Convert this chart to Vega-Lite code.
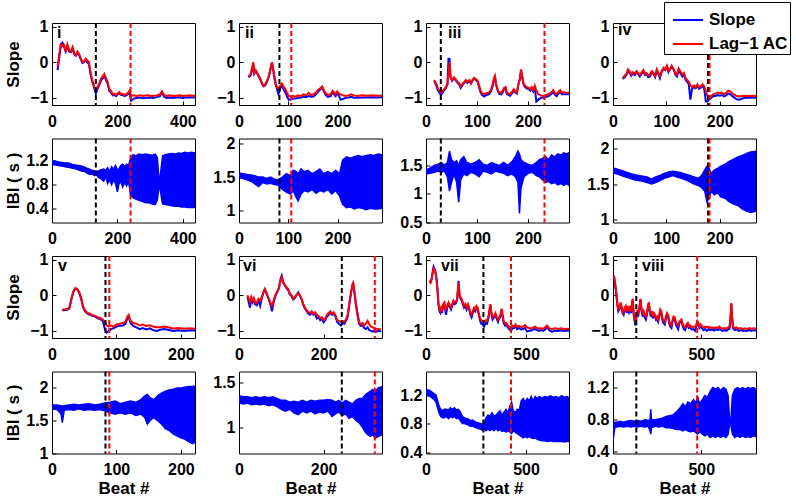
{
"$schema": "https://vega.github.io/schema/vega-lite/v6.json",
"padding": {"left": 3, "top": 1, "right": 4, "bottom": 2},
"bounds": "flush",
"spacing": {"row": 33.5, "column": 44},
"columns": 4,
"resolve": {"scale": {"x": "independent", "y": "independent"}, "legend": {"color": "independent"}},
"datasets": {
"dl": [
{"p":"i","x":134,"k":"b"},{"p":"i","x":240,"k":"r"},
{"p":"ii","x":82,"k":"b"},{"p":"ii","x":106,"k":"r"},
{"p":"iii","x":29,"k":"b"},{"p":"iii","x":232,"k":"r"},
{"p":"iv","x":178,"k":"b"},{"p":"iv","x":181,"k":"r"},
{"p":"v","x":83,"k":"b"},{"p":"v","x":89,"k":"r"},
{"p":"vi","x":243,"k":"b"},{"p":"vi","x":321,"k":"r"},
{"p":"vii","x":287,"k":"b"},{"p":"vii","x":425,"k":"r"},
{"p":"viii","x":132,"k":"b"},{"p":"viii","x":477,"k":"r"}
],
"sl": [
{"p":"i","x":17,"a":-0.12,"s":-0.22},{"p":"i","x":22,"a":0.2,"s":0.1},{"p":"i","x":27,"a":0.5,"s":0.5},{"p":"i","x":32,"a":0.45,"s":0.55},{"p":"i","x":37,"a":0.48,"s":0.42},{"p":"i","x":42,"a":0.3,"s":0.3},{"p":"i","x":47,"a":0.5,"s":0.45},{"p":"i","x":52,"a":0.35,"s":0.3},{"p":"i","x":58,"a":0.3,"s":0.28},{"p":"i","x":63,"a":0.42,"s":0.4},{"p":"i","x":68,"a":0.25,"s":0.22},{"p":"i","x":73,"a":0.2,"s":0.18},{"p":"i","x":78,"a":0.3,"s":0.25},{"p":"i","x":83,"a":0.22,"s":0.2},{"p":"i","x":88,"a":0.1,"s":0.08},{"p":"i","x":93,"a":0.0,"s":-0.02},{"p":"i","x":98,"a":0.02,"s":0.0},{"p":"i","x":103,"a":0.1,"s":0.05},{"p":"i","x":108,"a":0.05,"s":0.0},{"p":"i","x":113,"a":0.0,"s":-0.05},{"p":"i","x":118,"a":-0.3,"s":-0.35},{"p":"i","x":123,"a":-0.5,"s":-0.55},{"p":"i","x":127,"a":-0.6,"s":-0.65},{"p":"i","x":131,"a":-0.75,"s":-0.8},{"p":"i","x":134,"a":-0.8,"s":-0.88},{"p":"i","x":139,"a":-0.7,"s":-0.75},{"p":"i","x":144,"a":-0.6,"s":-0.65},{"p":"i","x":150,"a":-0.45,"s":-0.5},{"p":"i","x":155,"a":-0.4,"s":-0.45},{"p":"i","x":160,"a":-0.33,"s":-0.38},{"p":"i","x":165,"a":-0.45,"s":-0.5},{"p":"i","x":170,"a":-0.55,"s":-0.6},{"p":"i","x":175,"a":-0.75,"s":-0.8},{"p":"i","x":180,"a":-0.8,"s":-0.85},{"p":"i","x":186,"a":-0.9,"s":-0.93},{"p":"i","x":191,"a":-0.88,"s":-0.92},{"p":"i","x":196,"a":-0.92,"s":-0.95},{"p":"i","x":201,"a":-0.87,"s":-0.9},{"p":"i","x":206,"a":-0.84,"s":-0.88},{"p":"i","x":211,"a":-0.9,"s":-0.92},{"p":"i","x":216,"a":-0.88,"s":-0.91},{"p":"i","x":221,"a":-0.92,"s":-0.95},{"p":"i","x":227,"a":-0.9,"s":-0.93},{"p":"i","x":232,"a":-0.86,"s":-0.9},{"p":"i","x":237,"a":-0.8,"s":-0.86},{"p":"i","x":242,"a":-0.95,"s":-1.08},{"p":"i","x":250,"a":-0.93,"s":-1.02},{"p":"i","x":260,"a":-0.95,"s":-1.0},{"p":"i","x":270,"a":-0.93,"s":-1.0},{"p":"i","x":280,"a":-0.95,"s":-1.01},{"p":"i","x":290,"a":-0.93,"s":-1.0},{"p":"i","x":300,"a":-0.94,"s":-0.99},{"p":"i","x":310,"a":-0.95,"s":-1.0},{"p":"i","x":320,"a":-0.93,"s":-0.98},{"p":"i","x":330,"a":-0.9,"s":-0.95},{"p":"i","x":336,"a":-0.82,"s":-0.85},{"p":"i","x":342,"a":-0.92,"s":-0.96},{"p":"i","x":350,"a":-0.95,"s":-1.0},{"p":"i","x":360,"a":-0.93,"s":-0.99},{"p":"i","x":370,"a":-0.95,"s":-1.0},{"p":"i","x":380,"a":-0.94,"s":-0.99},{"p":"i","x":390,"a":-0.93,"s":-0.98},{"p":"i","x":400,"a":-0.95,"s":-1.0},{"p":"i","x":410,"a":-0.94,"s":-0.99},{"p":"i","x":420,"a":-0.93,"s":-0.98},{"p":"i","x":430,"a":-0.94,"s":-0.99},{"p":"i","x":437,"a":-0.93,"s":-0.98},
{"p":"ii","x":19,"a":-0.4,"s":-0.42},{"p":"ii","x":23,"a":-0.35,"s":-0.38},{"p":"ii","x":26,"a":-0.2,"s":-0.25},{"p":"ii","x":29,"a":0.0,"s":-0.05},{"p":"ii","x":31,"a":-0.3,"s":-0.32},{"p":"ii","x":34,"a":-0.22,"s":-0.25},{"p":"ii","x":37,"a":-0.3,"s":-0.32},{"p":"ii","x":40,"a":-0.38,"s":-0.4},{"p":"ii","x":43,"a":-0.45,"s":-0.48},{"p":"ii","x":47,"a":-0.6,"s":-0.62},{"p":"ii","x":50,"a":-0.66,"s":-0.68},{"p":"ii","x":53,"a":-0.63,"s":-0.65},{"p":"ii","x":56,"a":-0.55,"s":-0.57},{"p":"ii","x":59,"a":-0.45,"s":-0.47},{"p":"ii","x":62,"a":-0.3,"s":-0.32},{"p":"ii","x":65,"a":-0.1,"s":-0.12},{"p":"ii","x":67,"a":0.0,"s":-0.02},{"p":"ii","x":69,"a":-0.15,"s":-0.18},{"p":"ii","x":71,"a":-0.35,"s":-0.38},{"p":"ii","x":74,"a":-0.55,"s":-0.6},{"p":"ii","x":77,"a":-0.7,"s":-0.75},{"p":"ii","x":80,"a":-0.75,"s":-0.9},{"p":"ii","x":84,"a":-0.65,"s":-0.72},{"p":"ii","x":87,"a":-0.6,"s":-0.65},{"p":"ii","x":91,"a":-0.7,"s":-0.78},{"p":"ii","x":94,"a":-0.75,"s":-0.85},{"p":"ii","x":98,"a":-0.88,"s":-0.98},{"p":"ii","x":101,"a":-0.95,"s":-1.05},{"p":"ii","x":104,"a":-0.97,"s":-1.05},{"p":"ii","x":110,"a":-0.95,"s":-1.02},{"p":"ii","x":115,"a":-0.97,"s":-1.02},{"p":"ii","x":120,"a":-0.93,"s":-1.0},{"p":"ii","x":125,"a":-0.95,"s":-1.0},{"p":"ii","x":131,"a":-0.9,"s":-0.96},{"p":"ii","x":136,"a":-0.93,"s":-0.98},{"p":"ii","x":141,"a":-0.86,"s":-0.95},{"p":"ii","x":146,"a":-0.92,"s":-0.97},{"p":"ii","x":151,"a":-0.9,"s":-0.96},{"p":"ii","x":156,"a":-0.85,"s":-0.9},{"p":"ii","x":162,"a":-0.75,"s":-0.8},{"p":"ii","x":166,"a":-0.72,"s":-0.75},{"p":"ii","x":169,"a":-0.68,"s":-0.72},{"p":"ii","x":172,"a":-0.78,"s":-0.82},{"p":"ii","x":175,"a":-0.86,"s":-0.9},{"p":"ii","x":180,"a":-0.92,"s":-0.97},{"p":"ii","x":186,"a":-0.9,"s":-0.95},{"p":"ii","x":190,"a":-0.8,"s":-0.84},{"p":"ii","x":193,"a":-0.85,"s":-0.9},{"p":"ii","x":196,"a":-0.9,"s":-0.95},{"p":"ii","x":199,"a":-0.82,"s":-0.86},{"p":"ii","x":203,"a":-0.88,"s":-0.95},{"p":"ii","x":206,"a":-0.9,"s":-1.05},{"p":"ii","x":211,"a":-0.93,"s":-1.03},{"p":"ii","x":216,"a":-0.95,"s":-1.0},{"p":"ii","x":222,"a":-0.93,"s":-0.99},{"p":"ii","x":228,"a":-0.9,"s":-0.97},{"p":"ii","x":233,"a":-0.93,"s":-1.0},{"p":"ii","x":240,"a":-0.95,"s":-1.0},{"p":"ii","x":250,"a":-0.93,"s":-0.99},{"p":"ii","x":260,"a":-0.94,"s":-0.99},{"p":"ii","x":270,"a":-0.93,"s":-0.98},{"p":"ii","x":280,"a":-0.94,"s":-0.99},{"p":"ii","x":290,"a":-0.93,"s":-0.98},
{"p":"iii","x":16,"a":-0.5,"s":-0.52},{"p":"iii","x":20,"a":-0.6,"s":-0.65},{"p":"iii","x":23,"a":-0.72,"s":-0.78},{"p":"iii","x":26,"a":-0.8,"s":-0.85},{"p":"iii","x":29,"a":-0.85,"s":-0.92},{"p":"iii","x":33,"a":-0.8,"s":-0.85},{"p":"iii","x":36,"a":-0.75,"s":-0.78},{"p":"iii","x":39,"a":-0.7,"s":-0.72},{"p":"iii","x":42,"a":-0.6,"s":-0.63},{"p":"iii","x":44,"a":-0.3,"s":0.1},{"p":"iii","x":46,"a":0.0,"s":0.1},{"p":"iii","x":48,"a":-0.4,"s":-0.42},{"p":"iii","x":51,"a":-0.5,"s":-0.52},{"p":"iii","x":55,"a":-0.42,"s":-0.45},{"p":"iii","x":58,"a":-0.48,"s":-0.5},{"p":"iii","x":62,"a":-0.55,"s":-0.58},{"p":"iii","x":65,"a":-0.6,"s":-0.63},{"p":"iii","x":68,"a":-0.68,"s":-0.72},{"p":"iii","x":72,"a":-0.6,"s":-0.63},{"p":"iii","x":75,"a":-0.55,"s":-0.58},{"p":"iii","x":78,"a":-0.5,"s":-0.52},{"p":"iii","x":81,"a":-0.55,"s":-0.58},{"p":"iii","x":85,"a":-0.5,"s":-0.52},{"p":"iii","x":88,"a":-0.58,"s":-0.6},{"p":"iii","x":91,"a":-0.5,"s":-0.52},{"p":"iii","x":94,"a":-0.44,"s":-0.46},{"p":"iii","x":98,"a":-0.48,"s":-0.5},{"p":"iii","x":101,"a":-0.52,"s":-0.55},{"p":"iii","x":104,"a":-0.65,"s":-0.7},{"p":"iii","x":107,"a":-0.8,"s":-0.85},{"p":"iii","x":110,"a":-0.88,"s":-0.92},{"p":"iii","x":114,"a":-0.9,"s":-0.96},{"p":"iii","x":118,"a":-0.87,"s":-0.92},{"p":"iii","x":123,"a":-0.85,"s":-0.9},{"p":"iii","x":127,"a":-0.78,"s":-0.82},{"p":"iii","x":130,"a":-0.65,"s":-0.7},{"p":"iii","x":133,"a":-0.45,"s":-0.5},{"p":"iii","x":135,"a":-0.38,"s":-0.4},{"p":"iii","x":137,"a":-0.6,"s":-0.62},{"p":"iii","x":140,"a":-0.75,"s":-0.78},{"p":"iii","x":143,"a":-0.85,"s":-0.88},{"p":"iii","x":147,"a":-0.86,"s":-0.9},{"p":"iii","x":150,"a":-0.8,"s":-0.85},{"p":"iii","x":153,"a":-0.72,"s":-0.75},{"p":"iii","x":156,"a":-0.7,"s":-0.72},{"p":"iii","x":158,"a":-0.85,"s":-0.88},{"p":"iii","x":162,"a":-0.88,"s":-0.92},{"p":"iii","x":165,"a":-0.9,"s":-0.94},{"p":"iii","x":169,"a":-0.82,"s":-0.86},{"p":"iii","x":172,"a":-0.76,"s":-0.8},{"p":"iii","x":175,"a":-0.82,"s":-0.85},{"p":"iii","x":178,"a":-0.85,"s":-0.88},{"p":"iii","x":181,"a":-0.6,"s":-0.62},{"p":"iii","x":184,"a":-0.45,"s":-0.48},{"p":"iii","x":186,"a":-0.2,"s":-0.22},{"p":"iii","x":188,"a":-0.35,"s":-0.4},{"p":"iii","x":191,"a":-0.6,"s":-0.62},{"p":"iii","x":194,"a":-0.66,"s":-0.7},{"p":"iii","x":198,"a":-0.7,"s":-0.74},{"p":"iii","x":201,"a":-0.72,"s":-0.75},{"p":"iii","x":204,"a":-0.76,"s":-0.8},{"p":"iii","x":207,"a":-0.7,"s":-0.74},{"p":"iii","x":210,"a":-0.78,"s":-0.82},{"p":"iii","x":213,"a":-0.66,"s":-0.7},{"p":"iii","x":216,"a":-0.8,"s":-1.1},{"p":"iii","x":220,"a":-0.9,"s":-1.05},{"p":"iii","x":225,"a":-0.93,"s":-1.0},{"p":"iii","x":230,"a":-0.95,"s":-1.0},{"p":"iii","x":235,"a":-0.92,"s":-0.97},{"p":"iii","x":240,"a":-0.9,"s":-0.95},{"p":"iii","x":245,"a":-0.85,"s":-0.9},{"p":"iii","x":249,"a":-0.78,"s":-0.84},{"p":"iii","x":253,"a":-0.88,"s":-0.92},{"p":"iii","x":256,"a":-0.9,"s":-0.95},{"p":"iii","x":260,"a":-0.82,"s":-0.87},{"p":"iii","x":263,"a":-0.78,"s":-0.83},{"p":"iii","x":266,"a":-0.86,"s":-0.9},{"p":"iii","x":270,"a":-0.84,"s":-0.9},{"p":"iii","x":275,"a":-0.86,"s":-0.9},{"p":"iii","x":280,"a":-0.85,"s":-0.9},
{"p":"iv","x":18,"a":-0.45,"s":-0.47},{"p":"iv","x":22,"a":-0.38,"s":-0.42},{"p":"iv","x":25,"a":-0.33,"s":-0.36},{"p":"iv","x":28,"a":-0.2,"s":-0.25},{"p":"iv","x":31,"a":-0.25,"s":-0.3},{"p":"iv","x":34,"a":-0.35,"s":-0.38},{"p":"iv","x":37,"a":-0.28,"s":-0.32},{"p":"iv","x":41,"a":-0.32,"s":-0.36},{"p":"iv","x":44,"a":-0.25,"s":-0.28},{"p":"iv","x":47,"a":-0.3,"s":-0.33},{"p":"iv","x":50,"a":-0.36,"s":-0.4},{"p":"iv","x":54,"a":-0.28,"s":-0.32},{"p":"iv","x":57,"a":-0.22,"s":-0.25},{"p":"iv","x":60,"a":-0.32,"s":-0.36},{"p":"iv","x":63,"a":-0.3,"s":-0.33},{"p":"iv","x":66,"a":-0.38,"s":-0.42},{"p":"iv","x":69,"a":-0.34,"s":-0.4},{"p":"iv","x":73,"a":-0.25,"s":-0.28},{"p":"iv","x":76,"a":-0.3,"s":-0.33},{"p":"iv","x":79,"a":-0.38,"s":-0.42},{"p":"iv","x":82,"a":-0.2,"s":-0.24},{"p":"iv","x":85,"a":-0.3,"s":-0.33},{"p":"iv","x":88,"a":-0.4,"s":-0.45},{"p":"iv","x":91,"a":-0.25,"s":-0.28},{"p":"iv","x":95,"a":-0.15,"s":-0.18},{"p":"iv","x":98,"a":-0.2,"s":-0.22},{"p":"iv","x":101,"a":-0.1,"s":-0.12},{"p":"iv","x":104,"a":-0.25,"s":-0.28},{"p":"iv","x":107,"a":-0.18,"s":-0.2},{"p":"iv","x":110,"a":-0.1,"s":-0.13},{"p":"iv","x":114,"a":-0.2,"s":-0.22},{"p":"iv","x":117,"a":-0.3,"s":-0.35},{"p":"iv","x":120,"a":-0.35,"s":-0.4},{"p":"iv","x":123,"a":-0.18,"s":-0.2},{"p":"iv","x":126,"a":-0.25,"s":-0.3},{"p":"iv","x":130,"a":-0.35,"s":-0.4},{"p":"iv","x":133,"a":-0.3,"s":-0.34},{"p":"iv","x":136,"a":-0.45,"s":-0.5},{"p":"iv","x":139,"a":-0.5,"s":-0.55},{"p":"iv","x":142,"a":-0.55,"s":-0.62},{"p":"iv","x":145,"a":-0.65,"s":-1.05},{"p":"iv","x":148,"a":-0.7,"s":-0.75},{"p":"iv","x":152,"a":-0.65,"s":-0.7},{"p":"iv","x":155,"a":-0.7,"s":-0.73},{"p":"iv","x":158,"a":-0.62,"s":-0.66},{"p":"iv","x":161,"a":-0.7,"s":-0.74},{"p":"iv","x":164,"a":-0.68,"s":-0.72},{"p":"iv","x":168,"a":-0.62,"s":-0.66},{"p":"iv","x":171,"a":-0.68,"s":-0.75},{"p":"iv","x":174,"a":-0.8,"s":-1.1},{"p":"iv","x":177,"a":-0.95,"s":-1.1},{"p":"iv","x":180,"a":-1.0,"s":-1.05},{"p":"iv","x":184,"a":-0.95,"s":-1.0},{"p":"iv","x":188,"a":-0.9,"s":-0.95},{"p":"iv","x":192,"a":-0.88,"s":-0.95},{"p":"iv","x":196,"a":-0.85,"s":-0.92},{"p":"iv","x":200,"a":-0.87,"s":-0.94},{"p":"iv","x":204,"a":-0.85,"s":-0.92},{"p":"iv","x":208,"a":-0.9,"s":-0.96},{"p":"iv","x":212,"a":-0.86,"s":-0.93},{"p":"iv","x":216,"a":-0.8,"s":-0.88},{"p":"iv","x":220,"a":-0.82,"s":-0.9},{"p":"iv","x":224,"a":-0.88,"s":-0.96},{"p":"iv","x":228,"a":-0.92,"s":-1.0},{"p":"iv","x":232,"a":-0.95,"s":-1.04},{"p":"iv","x":237,"a":-0.96,"s":-1.05},{"p":"iv","x":242,"a":-0.95,"s":-1.02},{"p":"iv","x":248,"a":-0.94,"s":-1.0},{"p":"iv","x":254,"a":-0.95,"s":-1.0},{"p":"iv","x":260,"a":-0.94,"s":-0.99},{"p":"iv","x":268,"a":-0.95,"s":-1.0},
{"p":"v","x":16,"a":-0.4,"s":-0.42},{"p":"v","x":20,"a":-0.4,"s":-0.42},{"p":"v","x":24,"a":-0.38,"s":-0.4},{"p":"v","x":27,"a":-0.35,"s":-0.37},{"p":"v","x":30,"a":-0.1,"s":-0.12},{"p":"v","x":33,"a":0.1,"s":0.08},{"p":"v","x":36,"a":0.2,"s":0.18},{"p":"v","x":39,"a":0.18,"s":0.17},{"p":"v","x":42,"a":0.1,"s":0.08},{"p":"v","x":45,"a":-0.05,"s":-0.08},{"p":"v","x":48,"a":-0.3,"s":-0.33},{"p":"v","x":51,"a":-0.42,"s":-0.45},{"p":"v","x":55,"a":-0.5,"s":-0.52},{"p":"v","x":59,"a":-0.52,"s":-0.55},{"p":"v","x":63,"a":-0.56,"s":-0.58},{"p":"v","x":67,"a":-0.58,"s":-0.6},{"p":"v","x":71,"a":-0.62,"s":-0.65},{"p":"v","x":75,"a":-0.64,"s":-0.67},{"p":"v","x":79,"a":-0.68,"s":-0.72},{"p":"v","x":82,"a":-0.75,"s":-0.95},{"p":"v","x":85,"a":-0.85,"s":-1.05},{"p":"v","x":88,"a":-0.88,"s":-1.0},{"p":"v","x":92,"a":-0.85,"s":-0.95},{"p":"v","x":96,"a":-0.88,"s":-0.92},{"p":"v","x":100,"a":-0.82,"s":-0.88},{"p":"v","x":105,"a":-0.8,"s":-0.86},{"p":"v","x":110,"a":-0.78,"s":-0.85},{"p":"v","x":114,"a":-0.74,"s":-0.8},{"p":"v","x":117,"a":-0.6,"s":-0.65},{"p":"v","x":119,"a":-0.55,"s":-0.6},{"p":"v","x":122,"a":-0.72,"s":-0.78},{"p":"v","x":126,"a":-0.78,"s":-0.86},{"p":"v","x":131,"a":-0.8,"s":-0.9},{"p":"v","x":136,"a":-0.85,"s":-0.95},{"p":"v","x":141,"a":-0.82,"s":-0.92},{"p":"v","x":146,"a":-0.86,"s":-0.96},{"p":"v","x":152,"a":-0.84,"s":-0.93},{"p":"v","x":157,"a":-0.88,"s":-0.98},{"p":"v","x":162,"a":-0.9,"s":-1.0},{"p":"v","x":168,"a":-0.9,"s":-0.97},{"p":"v","x":174,"a":-0.88,"s":-0.95},{"p":"v","x":180,"a":-0.9,"s":-0.97},{"p":"v","x":188,"a":-0.93,"s":-1.0},{"p":"v","x":196,"a":-0.92,"s":-0.98},{"p":"v","x":205,"a":-0.94,"s":-1.0},{"p":"v","x":214,"a":-0.93,"s":-0.98},{"p":"v","x":222,"a":-0.94,"s":-0.99},
{"p":"vi","x":20,"a":0.0,"s":-0.05},{"p":"vi","x":23,"a":-0.1,"s":-0.2},{"p":"vi","x":26,"a":-0.2,"s":-0.35},{"p":"vi","x":29,"a":-0.05,"s":-0.1},{"p":"vi","x":32,"a":-0.15,"s":-0.2},{"p":"vi","x":35,"a":-0.08,"s":-0.12},{"p":"vi","x":38,"a":-0.2,"s":-0.25},{"p":"vi","x":42,"a":-0.22,"s":-0.28},{"p":"vi","x":46,"a":-0.1,"s":-0.15},{"p":"vi","x":50,"a":-0.15,"s":-0.3},{"p":"vi","x":54,"a":-0.05,"s":-0.08},{"p":"vi","x":58,"a":0.1,"s":0.08},{"p":"vi","x":61,"a":0.18,"s":0.15},{"p":"vi","x":64,"a":0.1,"s":0.08},{"p":"vi","x":67,"a":0.0,"s":-0.02},{"p":"vi","x":70,"a":-0.08,"s":-0.1},{"p":"vi","x":74,"a":-0.2,"s":-0.25},{"p":"vi","x":78,"a":-0.3,"s":-0.45},{"p":"vi","x":82,"a":-0.15,"s":-0.2},{"p":"vi","x":86,"a":0.0,"s":-0.02},{"p":"vi","x":90,"a":0.1,"s":0.08},{"p":"vi","x":94,"a":0.2,"s":0.18},{"p":"vi","x":98,"a":0.4,"s":0.45},{"p":"vi","x":101,"a":0.5,"s":0.55},{"p":"vi","x":104,"a":0.35,"s":0.38},{"p":"vi","x":108,"a":0.3,"s":0.28},{"p":"vi","x":112,"a":0.22,"s":0.2},{"p":"vi","x":116,"a":0.18,"s":0.15},{"p":"vi","x":120,"a":0.05,"s":0.02},{"p":"vi","x":124,"a":0.0,"s":-0.02},{"p":"vi","x":128,"a":-0.1,"s":-0.12},{"p":"vi","x":132,"a":-0.05,"s":-0.08},{"p":"vi","x":136,"a":0.02,"s":0.0},{"p":"vi","x":140,"a":0.05,"s":0.08},{"p":"vi","x":144,"a":0.0,"s":-0.02},{"p":"vi","x":148,"a":-0.1,"s":-0.12},{"p":"vi","x":152,"a":-0.25,"s":-0.28},{"p":"vi","x":156,"a":-0.35,"s":-0.38},{"p":"vi","x":160,"a":-0.42,"s":-0.45},{"p":"vi","x":164,"a":-0.48,"s":-0.52},{"p":"vi","x":168,"a":-0.5,"s":-0.55},{"p":"vi","x":172,"a":-0.45,"s":-0.5},{"p":"vi","x":176,"a":-0.52,"s":-0.55},{"p":"vi","x":180,"a":-0.48,"s":-0.52},{"p":"vi","x":184,"a":-0.55,"s":-0.65},{"p":"vi","x":188,"a":-0.58,"s":-0.62},{"p":"vi","x":192,"a":-0.65,"s":-0.7},{"p":"vi","x":196,"a":-0.62,"s":-0.66},{"p":"vi","x":200,"a":-0.7,"s":-0.76},{"p":"vi","x":204,"a":-0.65,"s":-0.7},{"p":"vi","x":208,"a":-0.55,"s":-0.6},{"p":"vi","x":212,"a":-0.5,"s":-0.55},{"p":"vi","x":216,"a":-0.45,"s":-0.5},{"p":"vi","x":220,"a":-0.52,"s":-0.55},{"p":"vi","x":224,"a":-0.48,"s":-0.52},{"p":"vi","x":228,"a":-0.55,"s":-0.6},{"p":"vi","x":232,"a":-0.7,"s":-0.75},{"p":"vi","x":236,"a":-0.72,"s":-0.8},{"p":"vi","x":241,"a":-0.75,"s":-0.85},{"p":"vi","x":245,"a":-0.72,"s":-0.78},{"p":"vi","x":249,"a":-0.75,"s":-0.8},{"p":"vi","x":253,"a":-0.68,"s":-0.72},{"p":"vi","x":257,"a":-0.55,"s":-0.6},{"p":"vi","x":261,"a":-0.2,"s":-0.25},{"p":"vi","x":265,"a":0.1,"s":0.08},{"p":"vi","x":268,"a":0.3,"s":0.28},{"p":"vi","x":270,"a":0.35,"s":0.32},{"p":"vi","x":273,"a":0.1,"s":0.05},{"p":"vi","x":276,"a":-0.2,"s":-0.25},{"p":"vi","x":280,"a":-0.5,"s":-0.55},{"p":"vi","x":284,"a":-0.75,"s":-0.8},{"p":"vi","x":288,"a":-0.82,"s":-0.86},{"p":"vi","x":292,"a":-0.78,"s":-0.85},{"p":"vi","x":296,"a":-0.85,"s":-0.92},{"p":"vi","x":300,"a":-0.8,"s":-0.95},{"p":"vi","x":304,"a":-0.72,"s":-0.9},{"p":"vi","x":308,"a":-0.82,"s":-0.98},{"p":"vi","x":312,"a":-0.88,"s":-1.0},{"p":"vi","x":316,"a":-0.9,"s":-1.02},{"p":"vi","x":320,"a":-0.92,"s":-0.98},{"p":"vi","x":325,"a":-0.94,"s":-1.02},{"p":"vi","x":330,"a":-0.95,"s":-1.0},{"p":"vi","x":336,"a":-0.96,"s":-1.02},
{"p":"vii","x":17,"a":0.4,"s":0.4},{"p":"vii","x":23,"a":0.35,"s":0.38},{"p":"vii","x":28,"a":0.45,"s":0.45},{"p":"vii","x":33,"a":0.6,"s":0.65},{"p":"vii","x":38,"a":0.75,"s":0.8},{"p":"vii","x":44,"a":0.7,"s":0.72},{"p":"vii","x":50,"a":0.55,"s":0.6},{"p":"vii","x":54,"a":0.35,"s":0.4},{"p":"vii","x":58,"a":0.1,"s":0.12},{"p":"vii","x":62,"a":-0.2,"s":-0.25},{"p":"vii","x":67,"a":-0.4,"s":-0.45},{"p":"vii","x":72,"a":-0.45,"s":-0.5},{"p":"vii","x":76,"a":-0.35,"s":-0.4},{"p":"vii","x":80,"a":-0.4,"s":-0.5},{"p":"vii","x":86,"a":-0.25,"s":-0.3},{"p":"vii","x":92,"a":-0.2,"s":-0.25},{"p":"vii","x":96,"a":-0.35,"s":-0.4},{"p":"vii","x":100,"a":-0.4,"s":-0.55},{"p":"vii","x":106,"a":-0.3,"s":-0.35},{"p":"vii","x":113,"a":-0.2,"s":-0.25},{"p":"vii","x":119,"a":-0.28,"s":-0.32},{"p":"vii","x":125,"a":-0.35,"s":-0.4},{"p":"vii","x":131,"a":-0.25,"s":-0.3},{"p":"vii","x":137,"a":-0.15,"s":-0.2},{"p":"vii","x":143,"a":-0.2,"s":-0.25},{"p":"vii","x":150,"a":-0.18,"s":-0.22},{"p":"vii","x":156,"a":-0.1,"s":-0.12},{"p":"vii","x":160,"a":0.15,"s":0.2},{"p":"vii","x":163,"a":0.35,"s":0.4},{"p":"vii","x":167,"a":0.05,"s":0.02},{"p":"vii","x":172,"a":-0.05,"s":-0.08},{"p":"vii","x":178,"a":-0.1,"s":-0.15},{"p":"vii","x":184,"a":-0.2,"s":-0.25},{"p":"vii","x":190,"a":-0.3,"s":-0.35},{"p":"vii","x":197,"a":-0.25,"s":-0.3},{"p":"vii","x":203,"a":-0.35,"s":-0.4},{"p":"vii","x":210,"a":-0.25,"s":-0.3},{"p":"vii","x":216,"a":-0.35,"s":-0.4},{"p":"vii","x":222,"a":-0.5,"s":-0.55},{"p":"vii","x":228,"a":-0.55,"s":-0.62},{"p":"vii","x":234,"a":-0.45,"s":-0.5},{"p":"vii","x":240,"a":-0.35,"s":-0.4},{"p":"vii","x":246,"a":-0.4,"s":-0.45},{"p":"vii","x":252,"a":-0.3,"s":-0.35},{"p":"vii","x":258,"a":-0.35,"s":-0.4},{"p":"vii","x":264,"a":-0.5,"s":-0.55},{"p":"vii","x":270,"a":-0.65,"s":-0.7},{"p":"vii","x":276,"a":-0.7,"s":-0.8},{"p":"vii","x":283,"a":-0.72,"s":-0.82},{"p":"vii","x":290,"a":-0.75,"s":-0.88},{"p":"vii","x":298,"a":-0.7,"s":-0.78},{"p":"vii","x":305,"a":-0.72,"s":-0.8},{"p":"vii","x":312,"a":-0.6,"s":-0.65},{"p":"vii","x":318,"a":-0.4,"s":-0.42},{"p":"vii","x":322,"a":-0.25,"s":-0.28},{"p":"vii","x":326,"a":-0.45,"s":-0.5},{"p":"vii","x":333,"a":-0.62,"s":-0.68},{"p":"vii","x":340,"a":-0.58,"s":-0.62},{"p":"vii","x":347,"a":-0.5,"s":-0.55},{"p":"vii","x":353,"a":-0.6,"s":-0.65},{"p":"vii","x":360,"a":-0.7,"s":-0.75},{"p":"vii","x":366,"a":-0.62,"s":-0.66},{"p":"vii","x":372,"a":-0.55,"s":-0.6},{"p":"vii","x":378,"a":-0.38,"s":-0.42},{"p":"vii","x":382,"a":-0.5,"s":-0.55},{"p":"vii","x":388,"a":-0.72,"s":-0.78},{"p":"vii","x":395,"a":-0.8,"s":-0.85},{"p":"vii","x":402,"a":-0.78,"s":-0.82},{"p":"vii","x":408,"a":-0.85,"s":-0.9},{"p":"vii","x":416,"a":-0.88,"s":-0.95},{"p":"vii","x":425,"a":-0.9,"s":-1.0},{"p":"vii","x":432,"a":-0.85,"s":-0.93},{"p":"vii","x":440,"a":-0.88,"s":-0.92},{"p":"vii","x":448,"a":-0.82,"s":-0.88},{"p":"vii","x":456,"a":-0.88,"s":-0.95},{"p":"vii","x":465,"a":-0.86,"s":-0.92},{"p":"vii","x":475,"a":-0.9,"s":-0.96},{"p":"vii","x":485,"a":-0.88,"s":-0.95},{"p":"vii","x":495,"a":-0.84,"s":-0.92},{"p":"vii","x":505,"a":-0.9,"s":-1.02},{"p":"vii","x":515,"a":-0.92,"s":-1.0},{"p":"vii","x":525,"a":-0.94,"s":-1.0},{"p":"vii","x":535,"a":-0.9,"s":-0.96},{"p":"vii","x":545,"a":-0.88,"s":-0.95},{"p":"vii","x":555,"a":-0.92,"s":-0.98},{"p":"vii","x":565,"a":-0.94,"s":-1.0},{"p":"vii","x":575,"a":-0.92,"s":-0.98},{"p":"vii","x":585,"a":-0.95,"s":-1.0},{"p":"vii","x":595,"a":-0.9,"s":-0.96},{"p":"vii","x":605,"a":-0.85,"s":-0.9},{"p":"vii","x":612,"a":-0.9,"s":-0.95},{"p":"vii","x":620,"a":-0.94,"s":-1.0},{"p":"vii","x":630,"a":-0.95,"s":-1.02},{"p":"vii","x":645,"a":-0.93,"s":-0.99},{"p":"vii","x":660,"a":-0.95,"s":-1.0},{"p":"vii","x":675,"a":-0.93,"s":-0.98},{"p":"vii","x":690,"a":-0.95,"s":-1.0},{"p":"vii","x":705,"a":-0.94,"s":-0.99},{"p":"vii","x":715,"a":-0.95,"s":-1.0},
{"p":"viii","x":6,"a":0.55,"s":0.5},{"p":"viii","x":12,"a":0.35,"s":0.3},{"p":"viii","x":18,"a":0.1,"s":0.05},{"p":"viii","x":24,"a":-0.2,"s":-0.25},{"p":"viii","x":30,"a":-0.4,"s":-0.45},{"p":"viii","x":36,"a":-0.35,"s":-0.4},{"p":"viii","x":42,"a":-0.2,"s":-0.25},{"p":"viii","x":48,"a":-0.3,"s":-0.35},{"p":"viii","x":54,"a":-0.45,"s":-0.5},{"p":"viii","x":60,"a":-0.5,"s":-0.55},{"p":"viii","x":66,"a":-0.35,"s":-0.4},{"p":"viii","x":72,"a":-0.3,"s":-0.35},{"p":"viii","x":78,"a":-0.45,"s":-0.5},{"p":"viii","x":84,"a":-0.35,"s":-0.4},{"p":"viii","x":90,"a":-0.42,"s":-0.48},{"p":"viii","x":96,"a":-0.3,"s":-0.35},{"p":"viii","x":102,"a":-0.45,"s":-0.5},{"p":"viii","x":108,"a":-0.2,"s":-0.22},{"p":"viii","x":112,"a":-0.1,"s":-0.12},{"p":"viii","x":116,"a":-0.45,"s":-0.5},{"p":"viii","x":122,"a":-0.65,"s":-0.72},{"p":"viii","x":127,"a":-0.75,"s":-0.85},{"p":"viii","x":132,"a":-0.6,"s":-0.65},{"p":"viii","x":138,"a":-0.45,"s":-0.5},{"p":"viii","x":144,"a":-0.5,"s":-0.55},{"p":"viii","x":150,"a":-0.3,"s":-0.35},{"p":"viii","x":156,"a":-0.1,"s":-0.12},{"p":"viii","x":162,"a":-0.4,"s":-0.45},{"p":"viii","x":168,"a":-0.55,"s":-0.6},{"p":"viii","x":174,"a":-0.45,"s":-0.5},{"p":"viii","x":180,"a":-0.55,"s":-0.62},{"p":"viii","x":186,"a":-0.6,"s":-0.68},{"p":"viii","x":192,"a":-0.5,"s":-0.55},{"p":"viii","x":198,"a":-0.3,"s":-0.35},{"p":"viii","x":203,"a":-0.2,"s":-0.22},{"p":"viii","x":208,"a":-0.4,"s":-0.45},{"p":"viii","x":214,"a":-0.55,"s":-0.6},{"p":"viii","x":220,"a":-0.45,"s":-0.5},{"p":"viii","x":226,"a":-0.6,"s":-0.65},{"p":"viii","x":232,"a":-0.5,"s":-0.55},{"p":"viii","x":238,"a":-0.55,"s":-0.6},{"p":"viii","x":244,"a":-0.65,"s":-0.7},{"p":"viii","x":250,"a":-0.6,"s":-0.68},{"p":"viii","x":256,"a":-0.68,"s":-0.75},{"p":"viii","x":262,"a":-0.55,"s":-0.6},{"p":"viii","x":268,"a":-0.4,"s":-0.45},{"p":"viii","x":274,"a":-0.45,"s":-0.5},{"p":"viii","x":280,"a":-0.65,"s":-0.7},{"p":"viii","x":286,"a":-0.7,"s":-0.78},{"p":"viii","x":293,"a":-0.75,"s":-0.82},{"p":"viii","x":300,"a":-0.6,"s":-0.65},{"p":"viii","x":306,"a":-0.5,"s":-0.55},{"p":"viii","x":312,"a":-0.55,"s":-0.6},{"p":"viii","x":318,"a":-0.7,"s":-0.78},{"p":"viii","x":324,"a":-0.8,"s":-0.88},{"p":"viii","x":331,"a":-0.85,"s":-0.92},{"p":"viii","x":337,"a":-0.7,"s":-0.75},{"p":"viii","x":343,"a":-0.6,"s":-0.65},{"p":"viii","x":350,"a":-0.62,"s":-0.68},{"p":"viii","x":356,"a":-0.75,"s":-0.82},{"p":"viii","x":362,"a":-0.8,"s":-0.88},{"p":"viii","x":369,"a":-0.85,"s":-0.95},{"p":"viii","x":375,"a":-0.75,"s":-0.8},{"p":"viii","x":382,"a":-0.7,"s":-0.75},{"p":"viii","x":388,"a":-0.68,"s":-0.72},{"p":"viii","x":394,"a":-0.8,"s":-0.85},{"p":"viii","x":401,"a":-0.88,"s":-0.95},{"p":"viii","x":408,"a":-0.9,"s":-0.98},{"p":"viii","x":416,"a":-0.82,"s":-0.88},{"p":"viii","x":424,"a":-0.78,"s":-0.85},{"p":"viii","x":430,"a":-0.88,"s":-0.92},{"p":"viii","x":437,"a":-0.85,"s":-0.9},{"p":"viii","x":445,"a":-0.9,"s":-0.96},{"p":"viii","x":455,"a":-0.88,"s":-0.95},{"p":"viii","x":465,"a":-0.9,"s":-1.0},{"p":"viii","x":472,"a":-0.82,"s":-0.88},{"p":"viii","x":478,"a":-0.72,"s":-0.78},{"p":"viii","x":484,"a":-0.78,"s":-0.82},{"p":"viii","x":490,"a":-0.88,"s":-0.92},{"p":"viii","x":497,"a":-0.82,"s":-0.88},{"p":"viii","x":503,"a":-0.86,"s":-0.92},{"p":"viii","x":512,"a":-0.9,"s":-0.98},{"p":"viii","x":522,"a":-0.88,"s":-0.95},{"p":"viii","x":532,"a":-0.9,"s":-1.0},{"p":"viii","x":542,"a":-0.88,"s":-0.95},{"p":"viii","x":552,"a":-0.92,"s":-0.98},{"p":"viii","x":562,"a":-0.9,"s":-0.96},{"p":"viii","x":572,"a":-0.93,"s":-0.99},{"p":"viii","x":582,"a":-0.9,"s":-0.96},{"p":"viii","x":592,"a":-0.92,"s":-0.98},{"p":"viii","x":602,"a":-0.88,"s":-0.95},{"p":"viii","x":612,"a":-0.92,"s":-0.98},{"p":"viii","x":622,"a":-0.94,"s":-1.0},{"p":"viii","x":632,"a":-0.92,"s":-0.98},{"p":"viii","x":642,"a":-0.94,"s":-1.0},{"p":"viii","x":652,"a":-0.9,"s":-0.96},{"p":"viii","x":660,"a":-0.88,"s":-0.94},{"p":"viii","x":666,"a":-0.6,"s":-0.65},{"p":"viii","x":670,"a":-0.22,"s":-0.25},{"p":"viii","x":674,"a":-0.55,"s":-0.6},{"p":"viii","x":680,"a":-0.88,"s":-0.93},{"p":"viii","x":690,"a":-0.92,"s":-0.98},{"p":"viii","x":700,"a":-0.9,"s":-0.96},{"p":"viii","x":712,"a":-0.94,"s":-1.0},{"p":"viii","x":724,"a":-0.92,"s":-0.98},{"p":"viii","x":736,"a":-0.95,"s":-1.0},{"p":"viii","x":748,"a":-0.93,"s":-0.99},{"p":"viii","x":760,"a":-0.95,"s":-1.0},{"p":"viii","x":772,"a":-0.92,"s":-0.98},{"p":"viii","x":784,"a":-0.94,"s":-1.0},{"p":"viii","x":796,"a":-0.93,"s":-0.98},{"p":"viii","x":810,"a":-0.94,"s":-0.99}
],
"ib": [
{"p":"i","x":0,"lo":1.14,"hi":1.2},{"p":"i","x":10,"lo":1.13,"hi":1.19},{"p":"i","x":20,"lo":1.12,"hi":1.18},{"p":"i","x":30,"lo":1.11,"hi":1.17},{"p":"i","x":40,"lo":1.1,"hi":1.16},{"p":"i","x":50,"lo":1.09,"hi":1.16},{"p":"i","x":60,"lo":1.08,"hi":1.14},{"p":"i","x":70,"lo":1.07,"hi":1.13},{"p":"i","x":80,"lo":1.05,"hi":1.12},{"p":"i","x":90,"lo":1.03,"hi":1.11},{"p":"i","x":100,"lo":1.02,"hi":1.09},{"p":"i","x":108,"lo":0.99,"hi":1.07},{"p":"i","x":115,"lo":0.97,"hi":1.06},{"p":"i","x":122,"lo":0.98,"hi":1.04},{"p":"i","x":130,"lo":0.95,"hi":1.03},{"p":"i","x":136,"lo":0.97,"hi":1.02},{"p":"i","x":142,"lo":0.92,"hi":1.03},{"p":"i","x":150,"lo":0.9,"hi":1.05},{"p":"i","x":158,"lo":0.86,"hi":1.06},{"p":"i","x":164,"lo":0.94,"hi":1.04},{"p":"i","x":170,"lo":0.82,"hi":1.08},{"p":"i","x":176,"lo":0.88,"hi":1.02},{"p":"i","x":182,"lo":0.8,"hi":1.1},{"p":"i","x":188,"lo":0.88,"hi":1.06},{"p":"i","x":194,"lo":0.82,"hi":1.12},{"p":"i","x":200,"lo":0.68,"hi":1.04},{"p":"i","x":204,"lo":0.8,"hi":1.06},{"p":"i","x":210,"lo":0.86,"hi":1.12},{"p":"i","x":216,"lo":0.76,"hi":1.14},{"p":"i","x":222,"lo":0.84,"hi":1.1},{"p":"i","x":228,"lo":0.78,"hi":1.14},{"p":"i","x":234,"lo":0.86,"hi":1.12},{"p":"i","x":240,"lo":0.62,"hi":1.24},{"p":"i","x":248,"lo":0.58,"hi":1.3},{"p":"i","x":256,"lo":0.56,"hi":1.28},{"p":"i","x":266,"lo":0.54,"hi":1.31},{"p":"i","x":276,"lo":0.52,"hi":1.3},{"p":"i","x":286,"lo":0.5,"hi":1.31},{"p":"i","x":296,"lo":0.5,"hi":1.3},{"p":"i","x":306,"lo":0.48,"hi":1.29},{"p":"i","x":316,"lo":0.47,"hi":1.31},{"p":"i","x":322,"lo":0.55,"hi":1.25},{"p":"i","x":326,"lo":0.72,"hi":0.95},{"p":"i","x":330,"lo":0.75,"hi":0.9},{"p":"i","x":334,"lo":0.6,"hi":1.1},{"p":"i","x":338,"lo":0.48,"hi":1.28},{"p":"i","x":346,"lo":0.47,"hi":1.3},{"p":"i","x":356,"lo":0.46,"hi":1.31},{"p":"i","x":366,"lo":0.45,"hi":1.32},{"p":"i","x":376,"lo":0.44,"hi":1.31},{"p":"i","x":386,"lo":0.44,"hi":1.33},{"p":"i","x":396,"lo":0.43,"hi":1.32},{"p":"i","x":406,"lo":0.43,"hi":1.34},{"p":"i","x":416,"lo":0.42,"hi":1.33},{"p":"i","x":426,"lo":0.42,"hi":1.34},{"p":"i","x":437,"lo":0.42,"hi":1.33},
{"p":"ii","x":0,"lo":1.5,"hi":1.56},{"p":"ii","x":8,"lo":1.48,"hi":1.55},{"p":"ii","x":16,"lo":1.46,"hi":1.54},{"p":"ii","x":24,"lo":1.44,"hi":1.53},{"p":"ii","x":32,"lo":1.4,"hi":1.52},{"p":"ii","x":40,"lo":1.36,"hi":1.5},{"p":"ii","x":48,"lo":1.42,"hi":1.5},{"p":"ii","x":56,"lo":1.4,"hi":1.48},{"p":"ii","x":64,"lo":1.41,"hi":1.5},{"p":"ii","x":72,"lo":1.39,"hi":1.47},{"p":"ii","x":80,"lo":1.38,"hi":1.46},{"p":"ii","x":88,"lo":1.32,"hi":1.5},{"p":"ii","x":96,"lo":1.28,"hi":1.55},{"p":"ii","x":104,"lo":1.25,"hi":1.52},{"p":"ii","x":110,"lo":1.3,"hi":1.6},{"p":"ii","x":116,"lo":1.2,"hi":1.58},{"p":"ii","x":120,"lo":1.15,"hi":1.55},{"p":"ii","x":126,"lo":1.25,"hi":1.62},{"p":"ii","x":132,"lo":1.3,"hi":1.58},{"p":"ii","x":140,"lo":1.28,"hi":1.6},{"p":"ii","x":148,"lo":1.32,"hi":1.55},{"p":"ii","x":156,"lo":1.26,"hi":1.58},{"p":"ii","x":164,"lo":1.3,"hi":1.62},{"p":"ii","x":172,"lo":1.28,"hi":1.55},{"p":"ii","x":180,"lo":1.32,"hi":1.58},{"p":"ii","x":188,"lo":1.25,"hi":1.55},{"p":"ii","x":196,"lo":1.3,"hi":1.6},{"p":"ii","x":204,"lo":1.22,"hi":1.55},{"p":"ii","x":210,"lo":1.1,"hi":1.75},{"p":"ii","x":218,"lo":1.05,"hi":1.8},{"p":"ii","x":226,"lo":1.06,"hi":1.78},{"p":"ii","x":234,"lo":1.03,"hi":1.8},{"p":"ii","x":242,"lo":1.05,"hi":1.82},{"p":"ii","x":250,"lo":1.04,"hi":1.8},{"p":"ii","x":258,"lo":1.02,"hi":1.82},{"p":"ii","x":266,"lo":1.04,"hi":1.83},{"p":"ii","x":274,"lo":1.03,"hi":1.82},{"p":"ii","x":282,"lo":1.03,"hi":1.84},{"p":"ii","x":290,"lo":1.04,"hi":1.83},
{"p":"iii","x":0,"lo":1.35,"hi":1.42},{"p":"iii","x":8,"lo":1.36,"hi":1.45},{"p":"iii","x":16,"lo":1.38,"hi":1.5},{"p":"iii","x":24,"lo":1.4,"hi":1.52},{"p":"iii","x":30,"lo":1.38,"hi":1.55},{"p":"iii","x":36,"lo":1.4,"hi":1.5},{"p":"iii","x":42,"lo":1.3,"hi":1.55},{"p":"iii","x":46,"lo":1.05,"hi":1.75},{"p":"iii","x":50,"lo":1.2,"hi":1.6},{"p":"iii","x":55,"lo":1.35,"hi":1.55},{"p":"iii","x":60,"lo":1.2,"hi":1.58},{"p":"iii","x":64,"lo":0.85,"hi":1.5},{"p":"iii","x":68,"lo":1.25,"hi":1.6},{"p":"iii","x":74,"lo":1.35,"hi":1.65},{"p":"iii","x":80,"lo":1.32,"hi":1.55},{"p":"iii","x":88,"lo":1.38,"hi":1.52},{"p":"iii","x":96,"lo":1.35,"hi":1.55},{"p":"iii","x":104,"lo":1.3,"hi":1.6},{"p":"iii","x":112,"lo":1.4,"hi":1.52},{"p":"iii","x":120,"lo":1.38,"hi":1.5},{"p":"iii","x":128,"lo":1.35,"hi":1.55},{"p":"iii","x":136,"lo":1.4,"hi":1.52},{"p":"iii","x":144,"lo":1.38,"hi":1.5},{"p":"iii","x":152,"lo":1.36,"hi":1.55},{"p":"iii","x":160,"lo":1.32,"hi":1.5},{"p":"iii","x":168,"lo":1.35,"hi":1.56},{"p":"iii","x":175,"lo":1.3,"hi":1.65},{"p":"iii","x":180,"lo":1.2,"hi":1.75},{"p":"iii","x":183,"lo":0.66,"hi":1.7},{"p":"iii","x":186,"lo":1.1,"hi":1.6},{"p":"iii","x":192,"lo":1.3,"hi":1.55},{"p":"iii","x":200,"lo":1.36,"hi":1.52},{"p":"iii","x":208,"lo":1.38,"hi":1.5},{"p":"iii","x":216,"lo":1.32,"hi":1.55},{"p":"iii","x":222,"lo":1.3,"hi":1.6},{"p":"iii","x":228,"lo":1.25,"hi":1.62},{"p":"iii","x":234,"lo":1.2,"hi":1.65},{"p":"iii","x":240,"lo":1.22,"hi":1.6},{"p":"iii","x":246,"lo":1.18,"hi":1.68},{"p":"iii","x":252,"lo":1.2,"hi":1.65},{"p":"iii","x":258,"lo":1.16,"hi":1.7},{"p":"iii","x":264,"lo":1.18,"hi":1.68},{"p":"iii","x":270,"lo":1.15,"hi":1.72},{"p":"iii","x":275,"lo":1.18,"hi":1.7},{"p":"iii","x":280,"lo":1.15,"hi":1.72},
{"p":"iv","x":0,"lo":1.66,"hi":1.73},{"p":"iv","x":8,"lo":1.64,"hi":1.71},{"p":"iv","x":16,"lo":1.62,"hi":1.69},{"p":"iv","x":24,"lo":1.6,"hi":1.67},{"p":"iv","x":32,"lo":1.58,"hi":1.65},{"p":"iv","x":40,"lo":1.56,"hi":1.63},{"p":"iv","x":48,"lo":1.55,"hi":1.62},{"p":"iv","x":56,"lo":1.54,"hi":1.61},{"p":"iv","x":64,"lo":1.52,"hi":1.6},{"p":"iv","x":72,"lo":1.5,"hi":1.57},{"p":"iv","x":80,"lo":1.52,"hi":1.6},{"p":"iv","x":88,"lo":1.55,"hi":1.62},{"p":"iv","x":96,"lo":1.58,"hi":1.65},{"p":"iv","x":104,"lo":1.6,"hi":1.67},{"p":"iv","x":112,"lo":1.62,"hi":1.68},{"p":"iv","x":120,"lo":1.6,"hi":1.67},{"p":"iv","x":128,"lo":1.58,"hi":1.66},{"p":"iv","x":136,"lo":1.56,"hi":1.64},{"p":"iv","x":144,"lo":1.53,"hi":1.62},{"p":"iv","x":152,"lo":1.5,"hi":1.6},{"p":"iv","x":160,"lo":1.48,"hi":1.58},{"p":"iv","x":166,"lo":1.45,"hi":1.62},{"p":"iv","x":172,"lo":1.4,"hi":1.7},{"p":"iv","x":176,"lo":1.25,"hi":1.75},{"p":"iv","x":180,"lo":1.3,"hi":1.72},{"p":"iv","x":184,"lo":1.4,"hi":1.65},{"p":"iv","x":190,"lo":1.35,"hi":1.7},{"p":"iv","x":196,"lo":1.38,"hi":1.72},{"p":"iv","x":202,"lo":1.32,"hi":1.75},{"p":"iv","x":210,"lo":1.3,"hi":1.78},{"p":"iv","x":218,"lo":1.25,"hi":1.82},{"p":"iv","x":226,"lo":1.22,"hi":1.85},{"p":"iv","x":234,"lo":1.2,"hi":1.88},{"p":"iv","x":242,"lo":1.15,"hi":1.9},{"p":"iv","x":250,"lo":1.12,"hi":1.93},{"p":"iv","x":258,"lo":1.1,"hi":1.95},{"p":"iv","x":268,"lo":1.12,"hi":1.96},
{"p":"v","x":0,"lo":1.68,"hi":1.74},{"p":"v","x":8,"lo":1.67,"hi":1.74},{"p":"v","x":14,"lo":1.6,"hi":1.73},{"p":"v","x":16,"lo":1.47,"hi":1.72},{"p":"v","x":19,"lo":1.66,"hi":1.73},{"p":"v","x":26,"lo":1.67,"hi":1.74},{"p":"v","x":34,"lo":1.66,"hi":1.75},{"p":"v","x":42,"lo":1.68,"hi":1.74},{"p":"v","x":50,"lo":1.66,"hi":1.75},{"p":"v","x":58,"lo":1.67,"hi":1.76},{"p":"v","x":66,"lo":1.66,"hi":1.74},{"p":"v","x":74,"lo":1.67,"hi":1.75},{"p":"v","x":82,"lo":1.65,"hi":1.77},{"p":"v","x":90,"lo":1.62,"hi":1.78},{"p":"v","x":98,"lo":1.6,"hi":1.8},{"p":"v","x":106,"lo":1.62,"hi":1.76},{"p":"v","x":114,"lo":1.6,"hi":1.78},{"p":"v","x":122,"lo":1.62,"hi":1.8},{"p":"v","x":130,"lo":1.58,"hi":1.78},{"p":"v","x":138,"lo":1.6,"hi":1.82},{"p":"v","x":144,"lo":1.55,"hi":1.88},{"p":"v","x":148,"lo":1.45,"hi":1.9},{"p":"v","x":152,"lo":1.5,"hi":1.85},{"p":"v","x":158,"lo":1.55,"hi":1.82},{"p":"v","x":164,"lo":1.5,"hi":1.88},{"p":"v","x":170,"lo":1.45,"hi":1.92},{"p":"v","x":176,"lo":1.38,"hi":1.95},{"p":"v","x":182,"lo":1.35,"hi":1.97},{"p":"v","x":188,"lo":1.3,"hi":1.98},{"p":"v","x":194,"lo":1.27,"hi":2.0},{"p":"v","x":200,"lo":1.24,"hi":2.0},{"p":"v","x":206,"lo":1.22,"hi":2.01},{"p":"v","x":212,"lo":1.18,"hi":2.02},{"p":"v","x":218,"lo":1.15,"hi":2.02},{"p":"v","x":222,"lo":1.17,"hi":2.03},
{"p":"vi","x":0,"lo":1.27,"hi":1.35},{"p":"vi","x":10,"lo":1.26,"hi":1.34},{"p":"vi","x":20,"lo":1.27,"hi":1.34},{"p":"vi","x":30,"lo":1.25,"hi":1.33},{"p":"vi","x":40,"lo":1.26,"hi":1.34},{"p":"vi","x":50,"lo":1.25,"hi":1.33},{"p":"vi","x":60,"lo":1.26,"hi":1.34},{"p":"vi","x":70,"lo":1.24,"hi":1.33},{"p":"vi","x":80,"lo":1.25,"hi":1.34},{"p":"vi","x":90,"lo":1.23,"hi":1.32},{"p":"vi","x":100,"lo":1.2,"hi":1.3},{"p":"vi","x":110,"lo":1.18,"hi":1.3},{"p":"vi","x":120,"lo":1.2,"hi":1.28},{"p":"vi","x":130,"lo":1.16,"hi":1.29},{"p":"vi","x":140,"lo":1.14,"hi":1.28},{"p":"vi","x":150,"lo":1.18,"hi":1.3},{"p":"vi","x":160,"lo":1.16,"hi":1.28},{"p":"vi","x":170,"lo":1.18,"hi":1.3},{"p":"vi","x":180,"lo":1.15,"hi":1.29},{"p":"vi","x":190,"lo":1.17,"hi":1.3},{"p":"vi","x":200,"lo":1.16,"hi":1.3},{"p":"vi","x":210,"lo":1.18,"hi":1.31},{"p":"vi","x":220,"lo":1.12,"hi":1.3},{"p":"vi","x":228,"lo":1.15,"hi":1.28},{"p":"vi","x":236,"lo":1.17,"hi":1.3},{"p":"vi","x":244,"lo":1.13,"hi":1.27},{"p":"vi","x":252,"lo":1.15,"hi":1.3},{"p":"vi","x":260,"lo":1.1,"hi":1.28},{"p":"vi","x":268,"lo":1.12,"hi":1.26},{"p":"vi","x":276,"lo":1.08,"hi":1.3},{"p":"vi","x":284,"lo":1.05,"hi":1.32},{"p":"vi","x":292,"lo":1.0,"hi":1.32},{"p":"vi","x":298,"lo":0.95,"hi":1.36},{"p":"vi","x":304,"lo":0.92,"hi":1.38},{"p":"vi","x":310,"lo":0.9,"hi":1.4},{"p":"vi","x":316,"lo":0.92,"hi":1.42},{"p":"vi","x":322,"lo":0.88,"hi":1.4},{"p":"vi","x":330,"lo":0.9,"hi":1.44},{"p":"vi","x":338,"lo":0.92,"hi":1.45},
{"p":"vii","x":0,"lo":1.2,"hi":1.28},{"p":"vii","x":10,"lo":1.2,"hi":1.27},{"p":"vii","x":20,"lo":1.18,"hi":1.26},{"p":"vii","x":30,"lo":1.16,"hi":1.24},{"p":"vii","x":40,"lo":1.14,"hi":1.22},{"p":"vii","x":50,"lo":1.1,"hi":1.2},{"p":"vii","x":58,"lo":1.02,"hi":1.12},{"p":"vii","x":66,"lo":0.94,"hi":1.04},{"p":"vii","x":74,"lo":0.9,"hi":1.0},{"p":"vii","x":82,"lo":0.88,"hi":0.98},{"p":"vii","x":92,"lo":0.88,"hi":1.0},{"p":"vii","x":102,"lo":0.9,"hi":1.0},{"p":"vii","x":112,"lo":0.87,"hi":0.99},{"p":"vii","x":122,"lo":0.9,"hi":1.02},{"p":"vii","x":132,"lo":0.88,"hi":1.0},{"p":"vii","x":142,"lo":0.9,"hi":1.02},{"p":"vii","x":152,"lo":0.87,"hi":0.99},{"p":"vii","x":162,"lo":0.88,"hi":1.0},{"p":"vii","x":172,"lo":0.84,"hi":0.96},{"p":"vii","x":182,"lo":0.8,"hi":0.9},{"p":"vii","x":192,"lo":0.8,"hi":0.88},{"p":"vii","x":202,"lo":0.79,"hi":0.87},{"p":"vii","x":212,"lo":0.78,"hi":0.86},{"p":"vii","x":222,"lo":0.76,"hi":0.84},{"p":"vii","x":232,"lo":0.77,"hi":0.85},{"p":"vii","x":242,"lo":0.75,"hi":0.83},{"p":"vii","x":252,"lo":0.74,"hi":0.82},{"p":"vii","x":262,"lo":0.73,"hi":0.81},{"p":"vii","x":272,"lo":0.72,"hi":0.8},{"p":"vii","x":282,"lo":0.71,"hi":0.79},{"p":"vii","x":292,"lo":0.72,"hi":0.82},{"p":"vii","x":300,"lo":0.7,"hi":0.88},{"p":"vii","x":310,"lo":0.72,"hi":0.92},{"p":"vii","x":320,"lo":0.7,"hi":0.9},{"p":"vii","x":330,"lo":0.72,"hi":0.95},{"p":"vii","x":340,"lo":0.7,"hi":0.9},{"p":"vii","x":350,"lo":0.73,"hi":0.92},{"p":"vii","x":360,"lo":0.7,"hi":0.95},{"p":"vii","x":370,"lo":0.72,"hi":0.98},{"p":"vii","x":380,"lo":0.69,"hi":0.92},{"p":"vii","x":390,"lo":0.7,"hi":0.96},{"p":"vii","x":400,"lo":0.68,"hi":1.0},{"p":"vii","x":410,"lo":0.7,"hi":0.95},{"p":"vii","x":420,"lo":0.68,"hi":1.05},{"p":"vii","x":428,"lo":0.66,"hi":1.1},{"p":"vii","x":436,"lo":0.7,"hi":0.98},{"p":"vii","x":446,"lo":0.68,"hi":0.95},{"p":"vii","x":456,"lo":0.66,"hi":1.0},{"p":"vii","x":466,"lo":0.64,"hi":0.98},{"p":"vii","x":476,"lo":0.62,"hi":1.12},{"p":"vii","x":486,"lo":0.6,"hi":1.15},{"p":"vii","x":496,"lo":0.62,"hi":1.1},{"p":"vii","x":506,"lo":0.6,"hi":1.15},{"p":"vii","x":516,"lo":0.62,"hi":1.12},{"p":"vii","x":526,"lo":0.6,"hi":1.18},{"p":"vii","x":536,"lo":0.59,"hi":1.12},{"p":"vii","x":546,"lo":0.6,"hi":1.18},{"p":"vii","x":556,"lo":0.58,"hi":1.15},{"p":"vii","x":566,"lo":0.57,"hi":1.18},{"p":"vii","x":580,"lo":0.56,"hi":1.16},{"p":"vii","x":594,"lo":0.56,"hi":1.18},{"p":"vii","x":608,"lo":0.55,"hi":1.17},{"p":"vii","x":622,"lo":0.56,"hi":1.19},{"p":"vii","x":636,"lo":0.55,"hi":1.17},{"p":"vii","x":650,"lo":0.55,"hi":1.18},{"p":"vii","x":664,"lo":0.55,"hi":1.16},{"p":"vii","x":678,"lo":0.55,"hi":1.19},{"p":"vii","x":692,"lo":0.54,"hi":1.17},{"p":"vii","x":706,"lo":0.55,"hi":1.18},{"p":"vii","x":715,"lo":0.55,"hi":1.16},
{"p":"viii","x":0,"lo":0.55,"hi":0.6},{"p":"viii","x":4,"lo":0.6,"hi":0.72},{"p":"viii","x":10,"lo":0.7,"hi":0.77},{"p":"viii","x":20,"lo":0.71,"hi":0.77},{"p":"viii","x":40,"lo":0.72,"hi":0.78},{"p":"viii","x":60,"lo":0.71,"hi":0.77},{"p":"viii","x":80,"lo":0.72,"hi":0.78},{"p":"viii","x":100,"lo":0.71,"hi":0.79},{"p":"viii","x":120,"lo":0.72,"hi":0.78},{"p":"viii","x":140,"lo":0.71,"hi":0.79},{"p":"viii","x":160,"lo":0.72,"hi":0.78},{"p":"viii","x":180,"lo":0.71,"hi":0.8},{"p":"viii","x":200,"lo":0.72,"hi":0.79},{"p":"viii","x":210,"lo":0.66,"hi":0.8},{"p":"viii","x":214,"lo":0.62,"hi":0.93},{"p":"viii","x":218,"lo":0.7,"hi":0.8},{"p":"viii","x":240,"lo":0.72,"hi":0.8},{"p":"viii","x":260,"lo":0.71,"hi":0.81},{"p":"viii","x":280,"lo":0.72,"hi":0.82},{"p":"viii","x":300,"lo":0.7,"hi":0.84},{"p":"viii","x":320,"lo":0.7,"hi":0.85},{"p":"viii","x":340,"lo":0.69,"hi":0.86},{"p":"viii","x":360,"lo":0.68,"hi":0.9},{"p":"viii","x":380,"lo":0.68,"hi":0.95},{"p":"viii","x":396,"lo":0.66,"hi":1.0},{"p":"viii","x":410,"lo":0.68,"hi":0.96},{"p":"viii","x":424,"lo":0.66,"hi":1.02},{"p":"viii","x":440,"lo":0.65,"hi":1.0},{"p":"viii","x":456,"lo":0.66,"hi":1.05},{"p":"viii","x":470,"lo":0.64,"hi":1.0},{"p":"viii","x":478,"lo":0.62,"hi":1.1},{"p":"viii","x":490,"lo":0.65,"hi":1.0},{"p":"viii","x":506,"lo":0.62,"hi":1.05},{"p":"viii","x":520,"lo":0.6,"hi":1.1},{"p":"viii","x":535,"lo":0.62,"hi":1.08},{"p":"viii","x":550,"lo":0.58,"hi":1.15},{"p":"viii","x":565,"lo":0.6,"hi":1.2},{"p":"viii","x":580,"lo":0.58,"hi":1.18},{"p":"viii","x":595,"lo":0.6,"hi":1.2},{"p":"viii","x":610,"lo":0.58,"hi":1.16},{"p":"viii","x":625,"lo":0.6,"hi":1.2},{"p":"viii","x":640,"lo":0.58,"hi":1.18},{"p":"viii","x":652,"lo":0.62,"hi":1.1},{"p":"viii","x":660,"lo":0.73,"hi":0.82},{"p":"viii","x":668,"lo":0.74,"hi":0.8},{"p":"viii","x":676,"lo":0.62,"hi":1.1},{"p":"viii","x":690,"lo":0.58,"hi":1.18},{"p":"viii","x":705,"lo":0.6,"hi":1.2},{"p":"viii","x":720,"lo":0.58,"hi":1.18},{"p":"viii","x":735,"lo":0.6,"hi":1.2},{"p":"viii","x":750,"lo":0.58,"hi":1.18},{"p":"viii","x":765,"lo":0.59,"hi":1.2},{"p":"viii","x":780,"lo":0.58,"hi":1.19},{"p":"viii","x":795,"lo":0.6,"hi":1.2},{"p":"viii","x":810,"lo":0.59,"hi":1.18}
]
},
"concat": [
{"width":143,"height":82,"title":{"text":"i","dx":5,"offset":-22},
 "encoding":{"x":{"field":"x","type":"quantitative","scale":{"domain":[0,437],"nice":false,"zero":false},"axis":{"values":[0,200,400],"format":"d","title":null}}},
 "layer":[
  {"data":{"name":"sl"},"transform":[{"filter":"datum.p=='i'"},{"fold":["s","a"],"as":["k","v"]}],"mark":{"type":"line","strokeWidth":2,"clip":true},
   "encoding":{"y":{"field":"v","type":"quantitative","scale":{"domain":[-1.2,1.1],"nice":false,"zero":false},"axis":{"values":[-1,0,1],"format":"d","title":"Slope","titleX":-34,"titleBaseline":"alphabetic"}},
   "color":{"field":"k","type":"nominal","scale":{"domain":["s","a"],"range":["#0000ff","#ff0000"]},"legend":null}}},
  {"data":{"name":"dl"},"transform":[{"filter":"datum.p=='i' && datum.k=='b'"}],"mark":{"type":"rule","color":"black","strokeWidth":2,"strokeDash":[5,3]},"encoding":{}},
  {"data":{"name":"dl"},"transform":[{"filter":"datum.p=='i' && datum.k=='r'"}],"mark":{"type":"rule","color":"#ff0000","strokeWidth":2,"strokeDash":[5,3]},"encoding":{}}
 ]},
{"width":143,"height":82,"title":{"text":"ii","dx":6,"offset":-22},
 "encoding":{"x":{"field":"x","type":"quantitative","scale":{"domain":[0,290],"nice":false,"zero":false},"axis":{"values":[0,100,200],"format":"d","title":null}}},
 "layer":[
  {"data":{"name":"sl"},"transform":[{"filter":"datum.p=='ii'"},{"fold":["s","a"],"as":["k","v"]}],"mark":{"type":"line","strokeWidth":2,"clip":true},
   "encoding":{"y":{"field":"v","type":"quantitative","scale":{"domain":[-1.2,1.1],"nice":false,"zero":false},"axis":{"values":[-1,0,1],"format":"d","title":null}},
   "color":{"field":"k","type":"nominal","scale":{"domain":["s","a"],"range":["#0000ff","#ff0000"]},"legend":null}}},
  {"data":{"name":"dl"},"transform":[{"filter":"datum.p=='ii' && datum.k=='b'"}],"mark":{"type":"rule","color":"black","strokeWidth":2,"strokeDash":[5,3]},"encoding":{}},
  {"data":{"name":"dl"},"transform":[{"filter":"datum.p=='ii' && datum.k=='r'"}],"mark":{"type":"rule","color":"#ff0000","strokeWidth":2,"strokeDash":[5,3]},"encoding":{}}
 ]},
{"width":143,"height":82,"title":{"text":"iii","dx":22,"offset":-22},
 "encoding":{"x":{"field":"x","type":"quantitative","scale":{"domain":[0,280],"nice":false,"zero":false},"axis":{"values":[0,100,200],"format":"d","title":null}}},
 "layer":[
  {"data":{"name":"sl"},"transform":[{"filter":"datum.p=='iii'"},{"fold":["s","a"],"as":["k","v"]}],"mark":{"type":"line","strokeWidth":2,"clip":true},
   "encoding":{"y":{"field":"v","type":"quantitative","scale":{"domain":[-1.2,1.1],"nice":false,"zero":false},"axis":{"values":[-1,0,1],"format":"d","title":null}},
   "color":{"field":"k","type":"nominal","scale":{"domain":["s","a"],"range":["#0000ff","#ff0000"]},"legend":null}}},
  {"data":{"name":"dl"},"transform":[{"filter":"datum.p=='iii' && datum.k=='b'"}],"mark":{"type":"rule","color":"black","strokeWidth":2,"strokeDash":[5,3]},"encoding":{}},
  {"data":{"name":"dl"},"transform":[{"filter":"datum.p=='iii' && datum.k=='r'"}],"mark":{"type":"rule","color":"#ff0000","strokeWidth":2,"strokeDash":[5,3]},"encoding":{}}
 ]},
{"width":143,"height":82,"title":{"text":"iv","dx":5,"offset":-36},
 "encoding":{"x":{"field":"x","type":"quantitative","scale":{"domain":[0,268],"nice":false,"zero":false},"axis":{"values":[0,100,200],"format":"d","title":null}}},
 "layer":[
  {"data":{"name":"sl"},"transform":[{"filter":"datum.p=='iv'"},{"fold":["s","a"],"as":["k","v"]}],"mark":{"type":"line","strokeWidth":2,"clip":true},
   "encoding":{"y":{"field":"v","type":"quantitative","scale":{"domain":[-1.2,1.1],"nice":false,"zero":false},"axis":{"values":[-1,0,1],"format":"d","title":null}},
   "color":{"field":"k","type":"nominal","scale":{"domain":["s","a"],"range":["#0000ff","#ff0000"]},
     "legend":{"orient":"none","legendX":51,"legendY":-21,"title":null,"labelExpr":"datum.label == 's' ? 'Slope' : 'Lag−1 AC'","symbolType":"stroke","symbolStrokeWidth":2,"symbolSize":900,"labelFont":"Liberation Sans","labelFontWeight":"bold","labelFontSize":17,"labelColor":"black","fillColor":"white","strokeColor":"black","padding":2,"rowPadding":-5,"labelOffset":5,"symbolOffset":6}}}},
  {"data":{"name":"dl"},"transform":[{"filter":"datum.p=='iv' && datum.k=='b'"}],"mark":{"type":"rule","color":"black","strokeWidth":2,"strokeDash":[5,3]},"encoding":{}},
  {"data":{"name":"dl"},"transform":[{"filter":"datum.p=='iv' && datum.k=='r'"}],"mark":{"type":"rule","color":"#ff0000","strokeWidth":2,"strokeDash":[5,3]},"encoding":{}}
 ]},
{"width":143,"height":84,
 "encoding":{"x":{"field":"x","type":"quantitative","scale":{"domain":[0,437],"nice":false,"zero":false},"axis":{"values":[0,200,400],"format":"d","title":null}}},
 "layer":[
  {"data":{"name":"ib"},"transform":[{"filter":"datum.p=='i'"}],"mark":{"type":"area","color":"#0000ff","stroke":"#0000ff","strokeWidth":1.5,"clip":true},
   "encoding":{"y":{"field":"lo","type":"quantitative","scale":{"domain":[0.17,1.57],"nice":false,"zero":false},"axis":{"values":[0.4,0.8,1.2],"format":".1f","title":"IBI ( s )","titleX":-34,"titleBaseline":"alphabetic"}},"y2":{"field":"hi"}}},
  {"data":{"name":"dl"},"transform":[{"filter":"datum.p=='i' && datum.k=='b'"}],"mark":{"type":"rule","color":"black","strokeWidth":2,"strokeDash":[5,3]},"encoding":{}},
  {"data":{"name":"dl"},"transform":[{"filter":"datum.p=='i' && datum.k=='r'"}],"mark":{"type":"rule","color":"#ff0000","strokeWidth":2,"strokeDash":[5,3]},"encoding":{}}
 ]},
{"width":143,"height":84,
 "encoding":{"x":{"field":"x","type":"quantitative","scale":{"domain":[0,290],"nice":false,"zero":false},"axis":{"values":[0,100,200],"format":"d","title":null}}},
 "layer":[
  {"data":{"name":"ib"},"transform":[{"filter":"datum.p=='ii'"}],"mark":{"type":"area","color":"#0000ff","stroke":"#0000ff","strokeWidth":1.5,"clip":true},
   "encoding":{"y":{"field":"lo","type":"quantitative","scale":{"domain":[0.83,2.07],"nice":false,"zero":false},"axis":{"values":[1,1.5,2],"format":"~g","title":null}},"y2":{"field":"hi"}}},
  {"data":{"name":"dl"},"transform":[{"filter":"datum.p=='ii' && datum.k=='b'"}],"mark":{"type":"rule","color":"black","strokeWidth":2,"strokeDash":[5,3]},"encoding":{}},
  {"data":{"name":"dl"},"transform":[{"filter":"datum.p=='ii' && datum.k=='r'"}],"mark":{"type":"rule","color":"#ff0000","strokeWidth":2,"strokeDash":[5,3]},"encoding":{}}
 ]},
{"width":143,"height":84,
 "encoding":{"x":{"field":"x","type":"quantitative","scale":{"domain":[0,280],"nice":false,"zero":false},"axis":{"values":[0,100,200],"format":"d","title":null}}},
 "layer":[
  {"data":{"name":"ib"},"transform":[{"filter":"datum.p=='iii'"}],"mark":{"type":"area","color":"#0000ff","stroke":"#0000ff","strokeWidth":1.5,"clip":true},
   "encoding":{"y":{"field":"lo","type":"quantitative","scale":{"domain":[0.5,1.97],"nice":false,"zero":false},"axis":{"values":[0.5,1,1.5],"format":"~g","title":null}},"y2":{"field":"hi"}}},
  {"data":{"name":"dl"},"transform":[{"filter":"datum.p=='iii' && datum.k=='b'"}],"mark":{"type":"rule","color":"black","strokeWidth":2,"strokeDash":[5,3]},"encoding":{}},
  {"data":{"name":"dl"},"transform":[{"filter":"datum.p=='iii' && datum.k=='r'"}],"mark":{"type":"rule","color":"#ff0000","strokeWidth":2,"strokeDash":[5,3]},"encoding":{}}
 ]},
{"width":143,"height":84,
 "encoding":{"x":{"field":"x","type":"quantitative","scale":{"domain":[0,268],"nice":false,"zero":false},"axis":{"values":[0,100,200],"format":"d","title":null}}},
 "layer":[
  {"data":{"name":"ib"},"transform":[{"filter":"datum.p=='iv'"}],"mark":{"type":"area","color":"#0000ff","stroke":"#0000ff","strokeWidth":1.5,"clip":true},
   "encoding":{"y":{"field":"lo","type":"quantitative","scale":{"domain":[0.96,2.14],"nice":false,"zero":false},"axis":{"values":[1,1.5,2],"format":"~g","title":null}},"y2":{"field":"hi"}}},
  {"data":{"name":"dl"},"transform":[{"filter":"datum.p=='iv' && datum.k=='b'"}],"mark":{"type":"rule","color":"black","strokeWidth":2,"strokeDash":[5,3]},"encoding":{}},
  {"data":{"name":"dl"},"transform":[{"filter":"datum.p=='iv' && datum.k=='r'"}],"mark":{"type":"rule","color":"#ff0000","strokeWidth":2,"strokeDash":[5,3]},"encoding":{}}
 ]},
{"width":143,"height":82,"title":{"text":"v","dx":6,"offset":-22},
 "encoding":{"x":{"field":"x","type":"quantitative","scale":{"domain":[0,222],"nice":false,"zero":false},"axis":{"values":[0,100,200],"format":"d","title":null}}},
 "layer":[
  {"data":{"name":"sl"},"transform":[{"filter":"datum.p=='v'"},{"fold":["s","a"],"as":["k","v"]}],"mark":{"type":"line","strokeWidth":2,"clip":true},
   "encoding":{"y":{"field":"v","type":"quantitative","scale":{"domain":[-1.2,1.1],"nice":false,"zero":false},"axis":{"values":[-1,0,1],"format":"d","title":"Slope","titleX":-34,"titleBaseline":"alphabetic"}},
   "color":{"field":"k","type":"nominal","scale":{"domain":["s","a"],"range":["#0000ff","#ff0000"]},"legend":null}}},
  {"data":{"name":"dl"},"transform":[{"filter":"datum.p=='v' && datum.k=='b'"}],"mark":{"type":"rule","color":"black","strokeWidth":2,"strokeDash":[5,3]},"encoding":{}},
  {"data":{"name":"dl"},"transform":[{"filter":"datum.p=='v' && datum.k=='r'"}],"mark":{"type":"rule","color":"#ff0000","strokeWidth":2,"strokeDash":[5,3]},"encoding":{}}
 ]},
{"width":143,"height":82,"title":{"text":"vi","dx":4,"offset":-22},
 "encoding":{"x":{"field":"x","type":"quantitative","scale":{"domain":[0,338],"nice":false,"zero":false},"axis":{"values":[0,200],"format":"d","title":null}}},
 "layer":[
  {"data":{"name":"sl"},"transform":[{"filter":"datum.p=='vi'"},{"fold":["s","a"],"as":["k","v"]}],"mark":{"type":"line","strokeWidth":2,"clip":true},
   "encoding":{"y":{"field":"v","type":"quantitative","scale":{"domain":[-1.2,1.1],"nice":false,"zero":false},"axis":{"values":[-1,0,1],"format":"d","title":null}},
   "color":{"field":"k","type":"nominal","scale":{"domain":["s","a"],"range":["#0000ff","#ff0000"]},"legend":null}}},
  {"data":{"name":"dl"},"transform":[{"filter":"datum.p=='vi' && datum.k=='b'"}],"mark":{"type":"rule","color":"black","strokeWidth":2,"strokeDash":[5,3]},"encoding":{}},
  {"data":{"name":"dl"},"transform":[{"filter":"datum.p=='vi' && datum.k=='r'"}],"mark":{"type":"rule","color":"#ff0000","strokeWidth":2,"strokeDash":[5,3]},"encoding":{}}
 ]},
{"width":143,"height":82,"title":{"text":"vii","dx":15,"offset":-22},
 "encoding":{"x":{"field":"x","type":"quantitative","scale":{"domain":[0,715],"nice":false,"zero":false},"axis":{"values":[0,500],"format":"d","title":null}}},
 "layer":[
  {"data":{"name":"sl"},"transform":[{"filter":"datum.p=='vii'"},{"fold":["s","a"],"as":["k","v"]}],"mark":{"type":"line","strokeWidth":2,"clip":true},
   "encoding":{"y":{"field":"v","type":"quantitative","scale":{"domain":[-1.2,1.1],"nice":false,"zero":false},"axis":{"values":[-1,0,1],"format":"d","title":null}},
   "color":{"field":"k","type":"nominal","scale":{"domain":["s","a"],"range":["#0000ff","#ff0000"]},"legend":null}}},
  {"data":{"name":"dl"},"transform":[{"filter":"datum.p=='vii' && datum.k=='b'"}],"mark":{"type":"rule","color":"black","strokeWidth":2,"strokeDash":[5,3]},"encoding":{}},
  {"data":{"name":"dl"},"transform":[{"filter":"datum.p=='vii' && datum.k=='r'"}],"mark":{"type":"rule","color":"#ff0000","strokeWidth":2,"strokeDash":[5,3]},"encoding":{}}
 ]},
{"width":143,"height":82,"title":{"text":"viii","dx":29,"offset":-22},
 "encoding":{"x":{"field":"x","type":"quantitative","scale":{"domain":[0,810],"nice":false,"zero":false},"axis":{"values":[0,500],"format":"d","title":null}}},
 "layer":[
  {"data":{"name":"sl"},"transform":[{"filter":"datum.p=='viii'"},{"fold":["s","a"],"as":["k","v"]}],"mark":{"type":"line","strokeWidth":2,"clip":true},
   "encoding":{"y":{"field":"v","type":"quantitative","scale":{"domain":[-1.2,1.1],"nice":false,"zero":false},"axis":{"values":[-1,0,1],"format":"d","title":null}},
   "color":{"field":"k","type":"nominal","scale":{"domain":["s","a"],"range":["#0000ff","#ff0000"]},"legend":null}}},
  {"data":{"name":"dl"},"transform":[{"filter":"datum.p=='viii' && datum.k=='b'"}],"mark":{"type":"rule","color":"black","strokeWidth":2,"strokeDash":[5,3]},"encoding":{}},
  {"data":{"name":"dl"},"transform":[{"filter":"datum.p=='viii' && datum.k=='r'"}],"mark":{"type":"rule","color":"#ff0000","strokeWidth":2,"strokeDash":[5,3]},"encoding":{}}
 ]},
{"width":143,"height":82,
 "encoding":{"x":{"field":"x","type":"quantitative","scale":{"domain":[0,222],"nice":false,"zero":false},"axis":{"values":[0,100,200],"format":"d","title":"Beat #","titleY":40,"titleBaseline":"alphabetic"}}},
 "layer":[
  {"data":{"name":"ib"},"transform":[{"filter":"datum.p=='v'"}],"mark":{"type":"area","color":"#0000ff","stroke":"#0000ff","strokeWidth":1.5,"clip":true},
   "encoding":{"y":{"field":"lo","type":"quantitative","scale":{"domain":[1,2.25],"nice":false,"zero":false},"axis":{"values":[1,1.5,2],"format":"~g","title":"IBI ( s )","titleX":-34,"titleBaseline":"alphabetic"}},"y2":{"field":"hi"}}},
  {"data":{"name":"dl"},"transform":[{"filter":"datum.p=='v' && datum.k=='b'"}],"mark":{"type":"rule","color":"black","strokeWidth":2,"strokeDash":[5,3]},"encoding":{}},
  {"data":{"name":"dl"},"transform":[{"filter":"datum.p=='v' && datum.k=='r'"}],"mark":{"type":"rule","color":"#ff0000","strokeWidth":2,"strokeDash":[5,3]},"encoding":{}}
 ]},
{"width":143,"height":82,
 "encoding":{"x":{"field":"x","type":"quantitative","scale":{"domain":[0,338],"nice":false,"zero":false},"axis":{"values":[0,200],"format":"d","title":"Beat #","titleY":40,"titleBaseline":"alphabetic"}}},
 "layer":[
  {"data":{"name":"ib"},"transform":[{"filter":"datum.p=='vi'"}],"mark":{"type":"area","color":"#0000ff","stroke":"#0000ff","strokeWidth":1.5,"clip":true},
   "encoding":{"y":{"field":"lo","type":"quantitative","scale":{"domain":[0.71,1.62],"nice":false,"zero":false},"axis":{"values":[1,1.5],"format":"~g","title":null}},"y2":{"field":"hi"}}},
  {"data":{"name":"dl"},"transform":[{"filter":"datum.p=='vi' && datum.k=='b'"}],"mark":{"type":"rule","color":"black","strokeWidth":2,"strokeDash":[5,3]},"encoding":{}},
  {"data":{"name":"dl"},"transform":[{"filter":"datum.p=='vi' && datum.k=='r'"}],"mark":{"type":"rule","color":"#ff0000","strokeWidth":2,"strokeDash":[5,3]},"encoding":{}}
 ]},
{"width":143,"height":82,
 "encoding":{"x":{"field":"x","type":"quantitative","scale":{"domain":[0,715],"nice":false,"zero":false},"axis":{"values":[0,500],"format":"d","title":"Beat #","titleY":40,"titleBaseline":"alphabetic"}}},
 "layer":[
  {"data":{"name":"ib"},"transform":[{"filter":"datum.p=='vii'"}],"mark":{"type":"area","color":"#0000ff","stroke":"#0000ff","strokeWidth":1.5,"clip":true},
   "encoding":{"y":{"field":"lo","type":"quantitative","scale":{"domain":[0.38,1.53],"nice":false,"zero":false},"axis":{"values":[0.4,0.8,1.2],"format":".1f","title":null}},"y2":{"field":"hi"}}},
  {"data":{"name":"dl"},"transform":[{"filter":"datum.p=='vii' && datum.k=='b'"}],"mark":{"type":"rule","color":"black","strokeWidth":2,"strokeDash":[5,3]},"encoding":{}},
  {"data":{"name":"dl"},"transform":[{"filter":"datum.p=='vii' && datum.k=='r'"}],"mark":{"type":"rule","color":"#ff0000","strokeWidth":2,"strokeDash":[5,3]},"encoding":{}}
 ]},
{"width":143,"height":82,
 "encoding":{"x":{"field":"x","type":"quantitative","scale":{"domain":[0,810],"nice":false,"zero":false},"axis":{"values":[0,500],"format":"d","title":"Beat #","titleY":40,"titleBaseline":"alphabetic"}}},
 "layer":[
  {"data":{"name":"ib"},"transform":[{"filter":"datum.p=='viii'"}],"mark":{"type":"area","color":"#0000ff","stroke":"#0000ff","strokeWidth":1.5,"clip":true},
   "encoding":{"y":{"field":"lo","type":"quantitative","scale":{"domain":[0.38,1.4],"nice":false,"zero":false},"axis":{"values":[0.4,0.8,1.2],"format":".1f","title":null}},"y2":{"field":"hi"}}},
  {"data":{"name":"dl"},"transform":[{"filter":"datum.p=='viii' && datum.k=='b'"}],"mark":{"type":"rule","color":"black","strokeWidth":2,"strokeDash":[5,3]},"encoding":{}},
  {"data":{"name":"dl"},"transform":[{"filter":"datum.p=='viii' && datum.k=='r'"}],"mark":{"type":"rule","color":"#ff0000","strokeWidth":2,"strokeDash":[5,3]},"encoding":{}}
 ]}
],
"config": {
 "font": "Liberation Sans",
 "view": {"stroke": "black", "strokeWidth": 1},
 "axis": {"grid": false, "domain": false, "ticks": true, "tickColor": "black", "tickSize": -4, "tickWidth": 1, "labelFont": "Liberation Sans", "labelFontWeight": "bold", "labelFontSize": 16, "labelColor": "black", "titleFont": "Liberation Sans", "titleFontWeight": "bold", "titleFontSize": 17, "titleColor": "black", "labelFlush": false, "labelOverlap": false},
 "axisX": {"labelPadding": 12},
 "axisY": {"labelPadding": 8},
 "title": {"anchor": "start", "frame": "group", "offset": -16, "baseline": "alphabetic", "font": "Liberation Sans", "fontSize": 16, "fontWeight": "bold", "color": "black"}
}
}
